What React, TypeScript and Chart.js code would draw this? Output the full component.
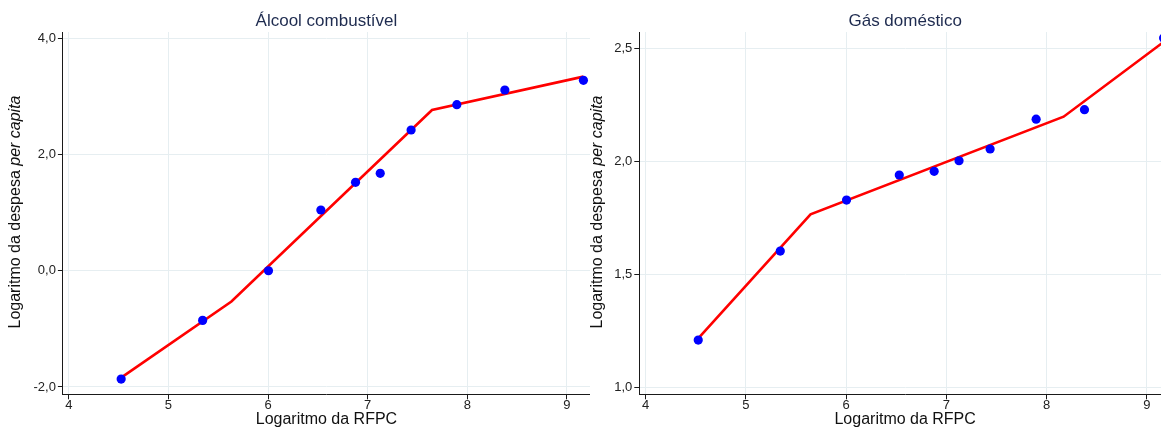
import React, { useEffect, useRef } from "react";
import { Chart, registerables } from "chart.js";

Chart.register(...registerables);

const FONT = "'Liberation Sans', Arial, Helvetica, sans-serif";

// Log of per-capita household income (RFPC), one value per income class
const incomeLog = [4.525, 5.343, 6.004, 6.53, 6.878, 7.126, 7.436, 7.895, 8.377, 9.166];

// Log of per-capita expenditure for each product
const alcoolSpend = [-1.864, -0.854, 0.0, 1.045, 1.521, 1.676, 2.422, 2.857, 3.11, 3.277];
const gasSpend = [1.208, 1.602, 1.828, 1.939, 1.955, 2.002, 2.054, 2.186, 2.228, 2.545];

// Piecewise-linear fitted curves (knots)
const alcoolFitX = [4.525, 5.632, 7.646, 9.166];
const alcoolFitY = [-1.84, -0.53, 2.766, 3.34];
const gasFitX = [4.525, 5.645, 8.169, 9.166];
const gasFitY = [1.216, 1.765, 2.197, 2.528];

// Tick values
const xTicks = [4, 5, 6, 7, 8, 9];
const alcoolYTicks = [-2, 0, 2, 4];
const gasYTicks = [1, 1.5, 2, 2.5];

const titles = ["Álcool combustível", "Gás doméstico"];
const xTitle = "Logaritmo da RFPC";
const yTitlePlain = "Logaritmo da despesa ";
const yTitleItalic = "per capita";

const HEIGHT = 427;
const PLOT_BOTTOM = 394.3;
const GRID = "#e6eef1";
const AXIS = "#1a1a1a";

const fmtDecimal = (v: number) => v.toFixed(1).replace(".", ",");

// Draws the vertical axis title with an italic "per capita"
const yTitlePlugin = {
  id: "yTitleMixed",
  afterDraw(chart: any) {
    const ctx = chart.ctx as CanvasRenderingContext2D;
    ctx.save();
    ctx.fillStyle = "#111";
    ctx.textBaseline = "middle";
    ctx.textAlign = "left";
    ctx.font = `16px ${FONT}`;
    const w1 = ctx.measureText(yTitlePlain).width;
    ctx.font = `italic 16px ${FONT}`;
    const w2 = ctx.measureText(yTitleItalic).width;
    ctx.translate(16, 212);
    ctx.rotate(-Math.PI / 2);
    const x0 = -(w1 + w2) / 2;
    ctx.font = `16px ${FONT}`;
    ctx.fillText(yTitlePlain, x0, 0);
    ctx.font = `italic 16px ${FONT}`;
    ctx.fillText(yTitleItalic, x0 + w1, 0);
    ctx.restore();
  },
};

type PanelProps = {
  title: string;
  spend: number[];
  fitX: number[];
  fitY: number[];
  yTicks: number[];
  yMin: number;
  yMax: number;
  xMin: number;
  xMax: number;
  axisWidth: number;
  left: number;
  width: number;
};

function Panel(p: PanelProps) {
  const ref = useRef<HTMLCanvasElement>(null);

  useEffect(() => {
    const canvas = ref.current;
    if (!canvas) return;
    const chart = new Chart(canvas, {
      type: "scatter",
      data: {
        datasets: [
          {
            data: p.spend.map((y, i) => ({ x: incomeLog[i], y })),
            pointRadius: 4.6,
            pointHoverRadius: 4.6,
            pointBackgroundColor: "#0000ff",
            pointBorderWidth: 0,
            showLine: false,
            order: 0,
          },
          {
            data: p.fitX.map((x, i) => ({ x, y: p.fitY[i] })),
            showLine: true,
            borderColor: "#ff0000",
            borderWidth: 2.6,
            pointRadius: 0,
            pointHoverRadius: 0,
            order: 1,
          },
        ],
      },
      options: {
        responsive: false,
        animation: false,
        events: [],
        layout: { padding: 0, autoPadding: false },
        plugins: {
          legend: { display: false },
          tooltip: { enabled: false },
          title: {
            display: true,
            text: p.title,
            fullSize: false,
            color: "#1e2b4f",
            font: { family: FONT, size: 17, weight: "normal", lineHeight: 1.2 },
            padding: { top: 11.6, bottom: 0 },
          },
        },
        scales: {
          x: {
            type: "linear",
            min: p.xMin,
            max: p.xMax,
            afterBuildTicks: (s: any) => {
              s.ticks = xTicks.map((v) => ({ value: v }));
            },
            afterFit: (s: any) => {
              s.height = HEIGHT - PLOT_BOTTOM;
            },
            grid: { color: GRID, tickColor: AXIS, tickLength: 5, lineWidth: 1 },
            border: { color: AXIS, width: 1 },
            ticks: {
              color: "#222",
              font: { family: FONT, size: 13, lineHeight: 1 },
              padding: 0,
              maxRotation: 0,
              autoSkip: false,
              callback: (v: any) => String(v),
            },
            title: {
              display: true,
              text: xTitle,
              color: "#111",
              font: { family: FONT, size: 16, lineHeight: 1 },
              padding: { top: 0, bottom: -0.5 },
            },
          },
          y: {
            type: "linear",
            min: p.yMin,
            max: p.yMax,
            afterBuildTicks: (s: any) => {
              s.ticks = p.yTicks.map((v) => ({ value: v }));
            },
            afterFit: (s: any) => {
              s.width = p.axisWidth;
            },
            grid: { color: GRID, tickColor: AXIS, tickLength: 5, lineWidth: 1 },
            border: { color: AXIS, width: 1 },
            ticks: {
              color: "#222",
              font: { family: FONT, size: 13 },
              padding: 2,
              autoSkip: false,
              callback: (v: any) => fmtDecimal(Number(v)),
            },
          },
        },
      },
      plugins: [yTitlePlugin],
    } as any);
    return () => chart.destroy();
  }, []);

  return (
    <canvas
      ref={ref}
      width={p.width}
      height={HEIGHT}
      style={{ position: "absolute", left: p.left, top: 0, width: p.width, height: HEIGHT }}
    />
  );
}

export default function App() {
  return (
    <div
      style={{
        position: "absolute",
        left: 0,
        top: 0,
        width: 1161,
        height: HEIGHT,
        overflow: "hidden",
        background: "#ffffff",
      }}
    >
      <Panel
        title={titles[0]}
        spend={alcoolSpend}
        fitX={alcoolFitX}
        fitY={alcoolFitY}
        yTicks={alcoolYTicks}
        yMin={-2.126}
        yMax={4.108}
        xMin={3.94}
        xMax={9.232}
        axisWidth={62.9}
        left={0}
        width={590}
      />
      <Panel
        title={titles[1]}
        spend={gasSpend}
        fitX={gasFitX}
        fitY={gasFitY}
        yTicks={gasYTicks}
        yMin={0.968}
        yMax={2.572}
        xMin={3.937}
        xMax={9.24}
        axisWidth={57.3}
        left={582}
        width={589}
      />
    </div>
  );
}
